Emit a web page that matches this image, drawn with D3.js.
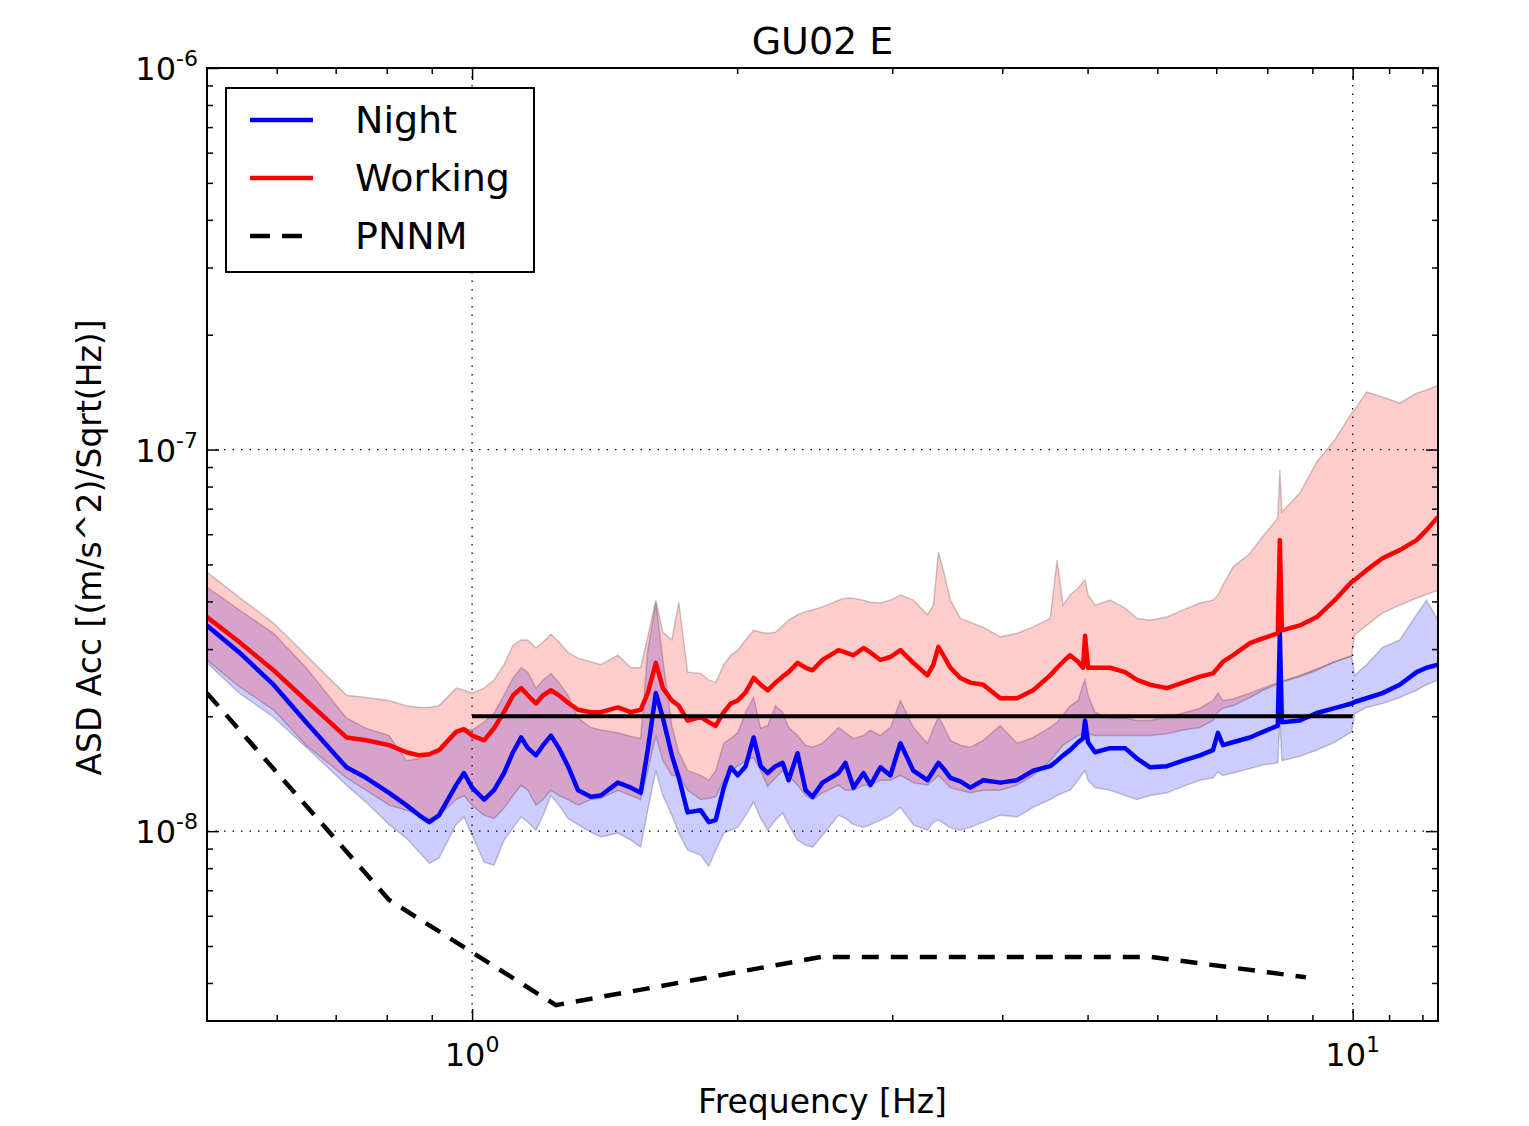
<!DOCTYPE html>
<html>
<head>
<meta charset="utf-8">
<script src="https://cdn.jsdelivr.net/npm/d3@7"></script>
<style>
  body { margin: 0; background: #fff; }
  svg { display: block; font-family: "DejaVu Sans", sans-serif; }
</style>
</head>
<body>
<svg id="chart" width="1529" height="1126"></svg>
<script>
// all amplitudes are in units of 1e-8 (m/s^2)/sqrt(Hz)
var unit = 1e-8;

var freq = [0.50, 0.544, 0.595, 0.648, 0.720, 0.758, 0.805, 0.842, 0.871, 0.894,
  0.917, 0.959, 0.979, 1.00, 1.032, 1.059, 1.087, 1.113, 1.137, 1.157,
  1.182, 1.204, 1.229, 1.255, 1.285, 1.319, 1.364, 1.400, 1.464, 1.515,
  1.554, 1.583, 1.617, 1.647, 1.686, 1.717, 1.757, 1.818, 1.857, 1.891,
  1.931, 1.967, 2.003, 2.045, 2.088, 2.127, 2.166, 2.211, 2.252, 2.288,
  2.342, 2.392, 2.436, 2.500, 2.607, 2.655, 2.711, 2.783, 2.834, 2.909,
  2.986, 3.065, 3.170, 3.289, 3.341, 3.385, 3.429, 3.493, 3.585, 3.680,
  3.807, 3.979, 4.159, 4.337, 4.534, 4.617, 4.690, 4.776, 4.877, 4.941,
  4.967, 5.006, 5.099, 5.303, 5.515, 5.690, 5.887, 6.154, 6.417, 6.708,
  6.940, 7.031, 7.123, 7.312, 7.644, 7.907, 8.222, 8.266, 8.310, 8.709,
  9.105, 9.541, 9.974, 10.05, 10.37, 10.81, 11.31, 11.82, 12.13, 12.50];

var workHigh = [4.77, 4.10, 3.51, 2.89, 2.27, 2.24, 2.20, 2.13, 2.11, 2.11,
  2.13, 2.37, 2.34, 2.30, 2.37, 2.49, 2.73, 3.07, 3.17, 3.17,
  3.02, 3.13, 3.28, 3.13, 2.94, 2.84, 2.78, 2.73, 2.89, 2.68,
  2.68, 3.23, 4.03, 3.32, 3.17, 3.98, 2.61, 2.59, 2.49, 2.45,
  2.73, 2.89, 2.98, 3.17, 3.36, 3.32, 3.30, 3.32, 3.46, 3.57,
  3.69, 3.76, 3.80, 3.87, 4.03, 4.08, 4.08, 4.03, 3.98, 3.96,
  4.03, 4.16, 4.03, 3.69, 3.91, 5.38, 4.83, 4.03, 3.61, 3.53,
  3.42, 3.23, 3.30, 3.43, 3.61, 5.13, 3.91, 4.16, 4.33, 4.49,
  4.55, 4.16, 3.91, 4.03, 3.84, 3.61, 3.57, 3.64, 3.80, 3.96,
  4.03, 4.16, 4.41, 4.92, 5.34, 5.93, 6.61, 8.84, 6.86, 7.69,
  9.28, 10.59, 12.46, 12.69, 14.15, 13.73, 13.24, 14.06, 14.32, 14.75];

var workMed = [3.64, 3.13, 2.64, 2.20, 1.76, 1.73, 1.68, 1.61, 1.58, 1.59,
  1.63, 1.82, 1.85, 1.78, 1.73, 1.86, 2.05, 2.27, 2.37, 2.27,
  2.16, 2.27, 2.34, 2.27, 2.17, 2.08, 2.05, 2.05, 2.11, 2.05,
  2.08, 2.30, 2.76, 2.37, 2.20, 2.13, 1.95, 1.99, 1.93, 1.89,
  2.05, 2.16, 2.20, 2.31, 2.52, 2.42, 2.34, 2.45, 2.54, 2.61,
  2.76, 2.68, 2.64, 2.81, 2.98, 2.94, 2.89, 3.02, 2.94, 2.81,
  2.86, 2.98, 2.76, 2.56, 2.73, 3.04, 2.89, 2.68, 2.52, 2.45,
  2.42, 2.23, 2.23, 2.34, 2.56, 2.68, 2.78, 2.89, 2.78, 2.68,
  3.25, 2.68, 2.68, 2.68, 2.61, 2.49, 2.42, 2.37, 2.45, 2.54,
  2.59, 2.68, 2.78, 2.89, 3.11, 3.20, 3.30, 5.79, 3.36, 3.46,
  3.64, 4.03, 4.50, 4.55, 4.83, 5.19, 5.45, 5.79, 6.15, 6.66];

var workLow = [2.81, 2.39, 2.08, 1.68, 1.38, 1.28, 1.17, 1.135, 1.10, 1.08,
  1.10, 1.21, 1.24, 1.17, 1.10, 1.08, 1.15, 1.24, 1.32, 1.28,
  1.17, 1.21, 1.28, 1.24, 1.21, 1.17, 1.21, 1.22, 1.28, 1.24,
  1.21, 1.44, 1.78, 1.53, 1.40, 1.40, 1.28, 1.21, 1.22, 1.23,
  1.36, 1.44, 1.48, 1.53, 1.56, 1.44, 1.31, 1.38, 1.44, 1.40,
  1.32, 1.24, 1.21, 1.26, 1.32, 1.28, 1.28, 1.32, 1.32, 1.36,
  1.36, 1.40, 1.34, 1.32, 1.36, 1.40, 1.36, 1.30, 1.28, 1.26,
  1.28, 1.28, 1.32, 1.40, 1.53, 1.61, 1.68, 1.73, 1.78, 1.80,
  1.84, 1.80, 1.78, 1.78, 1.78, 1.78, 1.78, 1.80, 1.84, 1.87,
  1.95, 2.05, 2.10, 2.13, 2.24, 2.34, 2.43, 2.98, 2.46, 2.54,
  2.64, 2.78, 2.88, 3.27, 3.46, 3.73, 3.91, 4.08, 4.17, 4.28];

var nightHigh = [4.36, 3.80, 3.30, 2.68, 1.98, 1.86, 1.78, 1.53, 1.55, 1.58,
  1.63, 1.81, 1.86, 1.84, 1.93, 2.04, 2.27, 2.52, 2.68, 2.61,
  2.37, 2.49, 2.59, 2.45, 2.27, 1.98, 1.87, 1.84, 1.81, 1.77,
  1.75, 2.98, 3.96, 2.81, 1.89, 1.61, 1.44, 1.40, 1.36, 1.44,
  1.70, 1.75, 1.81, 2.05, 2.24, 1.86, 1.89, 2.13, 2.05, 1.87,
  1.78, 1.68, 1.66, 1.70, 1.87, 1.81, 1.75, 1.78, 1.84, 1.78,
  1.87, 2.20, 1.87, 1.70, 1.86, 1.99, 1.89, 1.73, 1.68, 1.66,
  1.73, 1.89, 1.70, 1.76, 1.87, 1.93, 2.02, 2.13, 2.20, 2.42,
  2.49, 2.27, 2.05, 1.98, 1.98, 1.95, 1.95, 1.99, 2.04, 2.10,
  2.20, 2.30, 2.20, 2.22, 2.30, 2.37, 2.45, 3.36, 2.47, 2.56,
  2.66, 2.78, 2.88, 2.56, 2.73, 3.03, 3.17, 3.69, 4.03, 3.57];

var nightMed = [3.46, 2.94, 2.42, 1.93, 1.47, 1.38, 1.26, 1.17, 1.10, 1.056,
  1.10, 1.32, 1.42, 1.30, 1.21, 1.28, 1.42, 1.61, 1.76, 1.65,
  1.58, 1.68, 1.78, 1.65, 1.48, 1.28, 1.23, 1.24, 1.34, 1.30,
  1.26, 1.63, 2.30, 1.98, 1.58, 1.38, 1.12, 1.135, 1.056, 1.069,
  1.30, 1.47, 1.40, 1.48, 1.76, 1.48, 1.42, 1.48, 1.51, 1.36,
  1.60, 1.28, 1.23, 1.34, 1.42, 1.51, 1.30, 1.42, 1.32, 1.47,
  1.40, 1.70, 1.44, 1.36, 1.44, 1.51, 1.46, 1.38, 1.35, 1.30,
  1.36, 1.34, 1.36, 1.44, 1.48, 1.53, 1.58, 1.63, 1.71, 1.75,
  1.95, 1.71, 1.61, 1.65, 1.65, 1.55, 1.47, 1.48, 1.53, 1.58,
  1.63, 1.81, 1.68, 1.71, 1.76, 1.82, 1.89, 3.30, 1.93, 1.95,
  2.04, 2.10, 2.16, 2.18, 2.23, 2.30, 2.42, 2.61, 2.68, 2.73];

var nightLow = [2.76, 2.30, 1.99, 1.66, 1.32, 1.19, 1.04, 0.959, 0.881, 0.824,
  0.850, 1.04, 1.09, 0.976, 0.829, 0.814, 0.947, 1.02, 1.09, 1.056,
  1.006, 1.10, 1.24, 1.17, 1.08, 1.04, 0.994, 0.965, 0.988, 0.947,
  0.908, 1.135, 1.44, 1.24, 1.10, 0.988, 0.892, 0.865, 0.809, 0.892,
  0.988, 1.006, 1.024, 1.10, 1.19, 1.08, 1.006, 1.069, 1.115, 1.04,
  0.947, 0.919, 0.908, 0.976, 1.10, 1.08, 1.04, 1.024, 1.04, 1.069,
  1.10, 1.155, 1.04, 1.006, 1.056, 1.069, 1.05, 1.02, 1.006, 1.024,
  1.056, 1.10, 1.09, 1.155, 1.21, 1.24, 1.26, 1.28, 1.36, 1.42,
  1.44, 1.36, 1.30, 1.28, 1.24, 1.21, 1.24, 1.26, 1.31, 1.36,
  1.38, 1.43, 1.40, 1.42, 1.46, 1.49, 1.51, 1.95, 1.53, 1.57,
  1.63, 1.71, 1.82, 2.03, 2.11, 2.16, 2.24, 2.34, 2.42, 2.49];

var pnnmFreq = [0.50, 0.805, 1.245, 2.49, 5.9, 8.85];
var pnnmVal = [2.30, 0.66, 0.35, 0.468, 0.468, 0.414];

var refFreq = [1, 10];
var refVal = [2.0, 2.0];

var xMajor = [1, 10];
var xMajorLabels = ["0", "1"];
var xMinor = [0.6, 0.7, 0.8, 0.9, 2, 3, 4, 5, 6, 7, 8, 9, 11, 12];
var yMajor = [1e-6, 1e-7, 1e-8];
var yMajorLabels = ["-6", "-7", "-8"];

var legendNames = ["Night", "Working", "PNNM"];

var plotLeft = 207, plotRight = 1438, plotTop = 68, plotBottom = 1021;

var svg = d3.select("#chart");

var x = d3.scaleLog().domain([0.5, 12.5]).range([plotLeft, plotRight]);
var y = d3.scaleLog().domain([3.18e-9, 1e-6]).range([plotBottom, plotTop]);

var yMinor = [];
[-9, -8, -7].forEach(function (p) {
  for (var k = 2; k <= 9; k++) {
    var v = k * Math.pow(10, p);
    if (v > y.domain()[0] && v < y.domain()[1]) yMinor.push(v);
  }
});

svg.append("defs").append("clipPath").attr("id", "plotClip")
  .append("rect")
  .attr("x", plotLeft).attr("y", plotTop)
  .attr("width", plotRight - plotLeft).attr("height", plotBottom - plotTop);

// grid
var grid = svg.append("g")
  .attr("stroke", "#000")
  .attr("stroke-width", 1.3)
  .attr("stroke-dasharray", "1.5,7");

grid.selectAll(".gx").data(xMajor).enter().append("line")
  .attr("x1", function (d) { return x(d); })
  .attr("x2", function (d) { return x(d); })
  .attr("y1", plotTop).attr("y2", plotBottom);

grid.selectAll(".gy").data(yMajor.slice(1)).enter().append("line")
  .attr("y1", function (d) { return y(d); })
  .attr("y2", function (d) { return y(d); })
  .attr("x1", plotLeft).attr("x2", plotRight);

var rows = freq.map(function (f, i) {
  return {
    f: f,
    wh: workHigh[i] * unit, wm: workMed[i] * unit, wl: workLow[i] * unit,
    nh: nightHigh[i] * unit, nm: nightMed[i] * unit, nl: nightLow[i] * unit
  };
});

var plot = svg.append("g").attr("clip-path", "url(#plotClip)");

function band(lo, hi) {
  return d3.area()
    .x(function (d) { return x(d.f); })
    .y0(function (d) { return y(d[lo]); })
    .y1(function (d) { return y(d[hi]); });
}

function curve(key) {
  return d3.line()
    .x(function (d) { return x(d.f); })
    .y(function (d) { return y(d[key]); });
}

plot.append("path")
  .datum(rows)
  .attr("d", band("nl", "nh"))
  .attr("fill", "#0000ff")
  .attr("fill-opacity", 0.2)
  .attr("stroke", "#000")
  .attr("stroke-opacity", 0.2)
  .attr("stroke-width", 1.5);

plot.append("path")
  .datum(rows)
  .attr("d", band("wl", "wh"))
  .attr("fill", "#ff0000")
  .attr("fill-opacity", 0.2)
  .attr("stroke", "#000")
  .attr("stroke-opacity", 0.2)
  .attr("stroke-width", 1.5);

plot.append("path")
  .datum(rows)
  .attr("d", curve("nm"))
  .attr("fill", "none")
  .attr("stroke", "#0000ff")
  .attr("stroke-width", 4.5)
  .attr("stroke-linejoin", "round");

plot.append("path")
  .datum(rows)
  .attr("d", curve("wm"))
  .attr("fill", "none")
  .attr("stroke", "#ff0000")
  .attr("stroke-width", 4.5)
  .attr("stroke-linejoin", "round");

var pnnm = pnnmFreq.map(function (f, i) { return { f: f, v: pnnmVal[i] * unit }; });
plot.append("path")
  .datum(pnnm)
  .attr("d", d3.line().x(function (d) { return x(d.f); }).y(function (d) { return y(d.v); }))
  .attr("fill", "none")
  .attr("stroke", "#000")
  .attr("stroke-width", 4.5)
  .attr("stroke-dasharray", "17,12");

var ref = refFreq.map(function (f, i) { return { f: f, v: refVal[i] * unit }; });
plot.append("path")
  .datum(ref)
  .attr("d", d3.line().x(function (d) { return x(d.f); }).y(function (d) { return y(d.v); }))
  .attr("fill", "none")
  .attr("stroke", "#000")
  .attr("stroke-width", 4);

// ticks, pointing inwards on all four sides
function ticks(axisFn, scale, values, size, transform) {
  var g = svg.append("g")
    .attr("transform", transform)
    .call(axisFn(scale).tickValues(values).tickSize(size).tickFormat(""));
  g.select(".domain").remove();
  g.selectAll("line").attr("stroke", "#000").attr("stroke-width", 1.5);
}

ticks(d3.axisBottom, x, xMajor, -12, "translate(0," + plotBottom + ")");
ticks(d3.axisBottom, x, xMinor, -6, "translate(0," + plotBottom + ")");
ticks(d3.axisTop, x, xMajor, -12, "translate(0," + plotTop + ")");
ticks(d3.axisTop, x, xMinor, -6, "translate(0," + plotTop + ")");
ticks(d3.axisLeft, y, yMajor, -12, "translate(" + plotLeft + ",0)");
ticks(d3.axisLeft, y, yMinor, -6, "translate(" + plotLeft + ",0)");
ticks(d3.axisRight, y, yMajor, -12, "translate(" + plotRight + ",0)");
ticks(d3.axisRight, y, yMinor, -6, "translate(" + plotRight + ",0)");

svg.append("rect")
  .attr("x", plotLeft).attr("y", plotTop)
  .attr("width", plotRight - plotLeft).attr("height", plotBottom - plotTop)
  .attr("fill", "none")
  .attr("stroke", "#000")
  .attr("stroke-width", 2);

// tick labels
var xl = svg.selectAll(".xlab").data(xMajor).enter().append("text")
  .attr("x", function (d) { return x(d); })
  .attr("y", 1066)
  .attr("text-anchor", "middle")
  .attr("font-size", 32)
  .attr("fill", "#000");
xl.append("tspan").text("10");
xl.append("tspan").attr("dy", -14).attr("font-size", 22)
  .text(function (d, i) { return xMajorLabels[i]; });

var yl = svg.selectAll(".ylab").data(yMajor).enter().append("text")
  .attr("x", 198)
  .attr("y", function (d) { return y(d) + 12; })
  .attr("text-anchor", "end")
  .attr("font-size", 32)
  .attr("fill", "#000");
yl.append("tspan").text("10");
yl.append("tspan").attr("dy", -14).attr("font-size", 22)
  .text(function (d, i) { return yMajorLabels[i]; });

// titles
svg.append("text")
  .attr("x", (plotLeft + plotRight) / 2)
  .attr("y", 54)
  .attr("text-anchor", "middle")
  .attr("font-size", 38)
  .text("GU02 E");

svg.append("text")
  .attr("x", (plotLeft + plotRight) / 2)
  .attr("y", 1113)
  .attr("text-anchor", "middle")
  .attr("font-size", 33)
  .text("Frequency [Hz]");

svg.append("text")
  .attr("transform", "translate(101," + ((plotTop + plotBottom) / 2 + 3) + ") rotate(-90)")
  .attr("text-anchor", "middle")
  .attr("font-size", 33)
  .text("ASD Acc [(m/s^2)/Sqrt(Hz)]");

// legend
var legend = svg.append("g");
legend.append("rect")
  .attr("x", 226).attr("y", 88)
  .attr("width", 308).attr("height", 184)
  .attr("fill", "#fff")
  .attr("stroke", "#000")
  .attr("stroke-width", 2);

var legendColors = ["#0000ff", "#ff0000", "#000"];
var legendDash = [null, null, "20,12"];
var item = legend.selectAll(".item").data(legendNames).enter().append("g")
  .attr("transform", function (d, i) { return "translate(0," + (120 + i * 58) + ")"; });

item.append("line")
  .attr("x1", 250).attr("x2", 313)
  .attr("stroke", function (d, i) { return legendColors[i]; })
  .attr("stroke-width", function (d, i) { return i == 2 ? 4.5 : 4.5; })
  .attr("stroke-dasharray", function (d, i) { return legendDash[i]; });

item.append("text")
  .attr("x", 355)
  .attr("y", 13)
  .attr("font-size", 38)
  .text(function (d) { return d; });
</script>
</body>
</html>
